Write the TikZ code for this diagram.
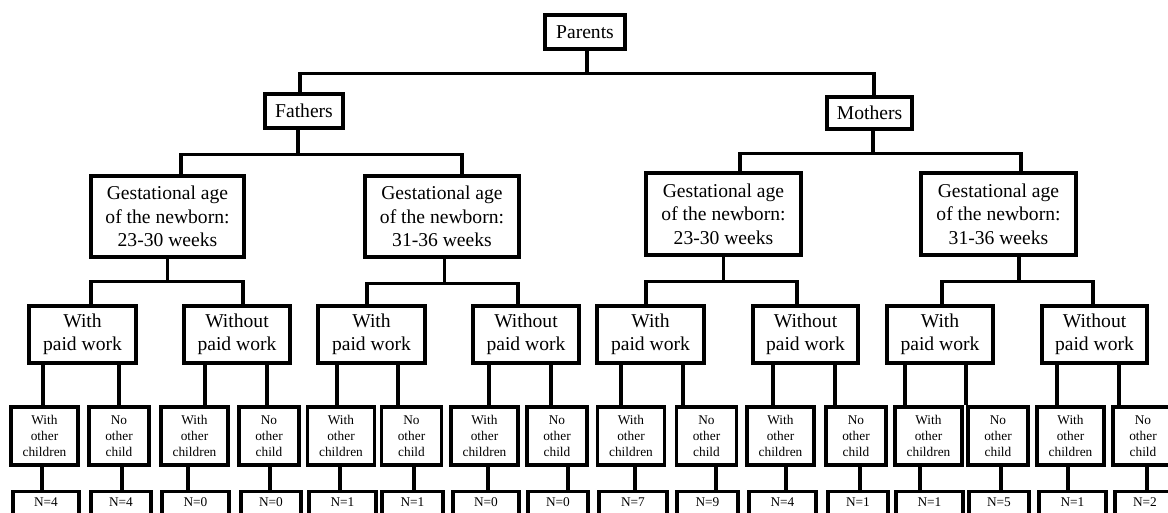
\documentclass[tikz,border=0pt]{standalone}
\usepackage{fontspec}
\setmainfont{Liberation Serif}
\usetikzlibrary{calc}
\begin{document}
\begin{tikzpicture}[x=0.75pt,y=-0.75pt,
 conn/.style={line width=2.4pt},
 bigbox/.style={draw,line width=2.4pt,inner sep=0pt,align=center,font=\fontsize{14.7}{17.5}\selectfont},
 leaf/.style={draw,line width=2.4pt,inner sep=0pt,align=center,font=\fontsize{10}{12}\selectfont,minimum height=43.5pt},
 nbox/.style={draw,line width=2.4pt,anchor=north,inner sep=0pt,text height=11.25pt,text depth=20pt,font=\fontsize{10}{12}\selectfont},
 sz/.style 2 args={minimum width=#1*0.75pt,minimum height=#2*0.75pt}]
\useasboundingbox (0,0) rectangle (1168,513);
\clip (0,0) rectangle (1168,513);
\fill[white] (0,0) rectangle (1168,513);

% top levels
\node[bigbox,sz={80}{34}] (P) at (585,32) {Parents};
\node[bigbox,sz={78}{34}] (F) at (304,111) {Fathers};
\node[bigbox,sz={85}{32}] (M) at (869.5,113) {Mothers};
\node[bigbox,sz={153}{81}] (G1) at (167.5,216.5) {Gestational age\\of the newborn:\\23-30 weeks};
\node[bigbox,sz={154}{81}] (G2) at (442,216.5) {Gestational age\\of the newborn:\\31-36 weeks};
\node[bigbox,sz={155}{82}] (G3) at (723.5,214) {Gestational age\\of the newborn:\\23-30 weeks};
\node[bigbox,sz={155}{82}] (G4) at (998.5,214) {Gestational age\\of the newborn:\\31-36 weeks};

% work level
\foreach \j/\x/\w in {1/82.5/107,2/237/106,3/371.5/107,4/526/106,5/650.5/107,6/805.5/105,7/940/106,8/1094.5/105}{
  \ifodd\j \def\tt{With\\paid work}\else \def\tt{Without\\paid work}\fi
  \node[bigbox,sz={\w}{57}] (T\j) at (\x,334.5) {\tt};
}

% leaves
\foreach \i/\x in {1/44.5,2/119,3/194.5,4/269,5/341,6/411.5,7/484.5,8/557,9/631,10/706.5,11/780.5,12/856,13/928.5,14/998,15/1070.5,16/1143}{
  \ifodd\i \def\lt{With\\other\\children}\def\lw{67}\else \def\lt{No\\other\\child}\def\lw{60}\fi
  \node[leaf,minimum width=\lw*0.75pt] (L\i) at (\x,436) {\lt};
}

% N boxes
\foreach \i/\x/\w/\n in {1/46/66/4,2/121/60/4,3/195.5/67/0,4/271/60/0,5/342.5/67/1,6/412.5/61/1,7/486/66/0,8/558/60/0,9/633/68/7,10/707.5/61/9,11/782.5/67/4,12/858/60/1,13/929.5/67/1,14/999/60/5,15/1072.5/67/1,16/1145/60/2}{
  \node[nbox,minimum width=\w*0.75pt] (N\i) at (\x,489.5) {N=\n};
}

% connectors: parents
\draw[conn] ([xshift=1.5pt]P.south) -- ++(0,23) coordinate (pb);
\draw[conn] ([xshift=-3pt]F.north) |- (pb) -| ([xshift=3.4pt]M.north);
% fathers / mothers
\draw[conn] ([xshift=-4.5pt]F.south) -- ++(0,25) coordinate (fb);
\draw[conn] ([xshift=10.1pt]G1.north) |- (fb) -| ([xshift=15pt]G2.north);
\draw[conn] ([xshift=2.6pt]M.south) -- ++(0,23) coordinate (mb);
\draw[conn] ([xshift=12.4pt]G3.north) |- (mb) -| ([xshift=16.9pt]G4.north);
% gestational -> work
\draw[conn] (G1.south) -- ++(0,23) coordinate (g1b);
\draw[conn] ([xshift=6.4pt]T1.north) |- (g1b) -| ([xshift=4.5pt]T2.north);
\draw[conn] ([xshift=1.9pt]G2.south) -- ++(0,25) coordinate (g2b);
\draw[conn] ([xshift=-3.4pt]T3.north) |- (g2b) -| ([xshift=-6pt]T4.north);
\draw[conn] (G3.south) -- ++(0,25) coordinate (g3b);
\draw[conn] ([xshift=-3.4pt]T5.north) |- (g3b) -| ([xshift=-6.4pt]T6.north);
\draw[conn] ([xshift=15.4pt]G4.south) -- ++(0,25) coordinate (g4b);
\draw[conn] ([xshift=1.5pt]T7.north) |- (g4b) -| ([xshift=-1.1pt]T8.north);

% work -> leaves, leaves -> N
\foreach \i/\a/\b in {1/-1.5/-2.5,2/0/3,3/10.5/-6.5,4/-2/1,5/-4/-1,6/-13.5/2.5,7/4.5/3.5,8/-6/11,9/-10/4,10/-23.5/9.5,11/-7.5/5.5,12/-21/4,13/-23.5/-8.5,14/-32/3,15/-13.5/-2.5,16/-24/4}{
  \pgfmathtruncatemacro\p{(\i+1)/2}
  \draw[conn] ([xshift=\a*0.75pt]L\i.north) -- ([xshift=\a*0.75pt]L\i.north |- T\p.south);
  \draw[conn] ([xshift=\b*0.75pt]L\i.south) -- ([xshift=\b*0.75pt]L\i.south |- N\i.north);
}
\end{tikzpicture}
\end{document}
